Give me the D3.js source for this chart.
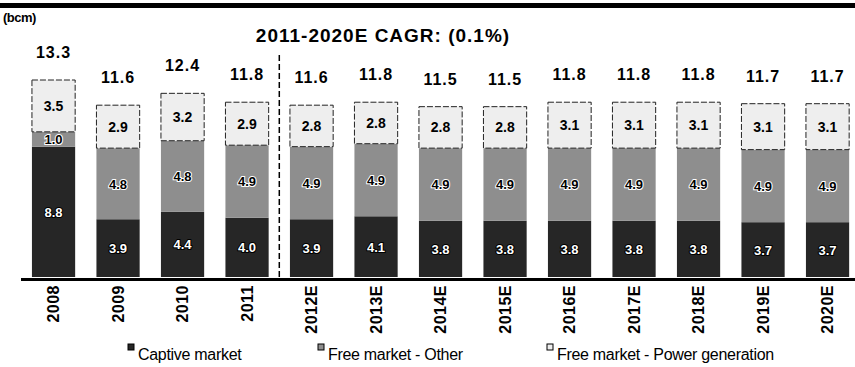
<!DOCTYPE html>
<html>
<head>
<meta charset="utf-8">
<script src="https://cdnjs.cloudflare.com/ajax/libs/d3/7.8.5/d3.min.js"></script>
<style>
  html, body { margin: 0; padding: 0; background: #fff; }
  svg { display: block; font-family: "Liberation Sans", Arial, sans-serif; }
</style>
</head>
<body>
<svg id="chart" width="855" height="367"></svg>
<script>
const years   = ["2008","2009","2010","2011","2012E","2013E","2014E","2015E","2016E","2017E","2018E","2019E","2020E"];
const captive = [8.8, 3.9, 4.4, 4.0, 3.9, 4.1, 3.8, 3.8, 3.8, 3.8, 3.8, 3.7, 3.7];
const other   = [1.0, 4.8, 4.8, 4.9, 4.9, 4.9, 4.9, 4.9, 4.9, 4.9, 4.9, 4.9, 4.9];
const power   = [3.5, 2.9, 3.2, 2.9, 2.8, 2.8, 2.8, 2.8, 3.1, 3.1, 3.1, 3.1, 3.1];
const totals  = [13.3, 11.6, 12.4, 11.8, 11.6, 11.8, 11.5, 11.5, 11.8, 11.8, 11.8, 11.7, 11.7];
const seriesNames = ["Captive market", "Free market - Other", "Free market - Power generation"];
const unitLabel = "(bcm)";
const titleText = "2011-2020E CAGR: (0.1%)";

const svg = d3.select("#chart");
const colors = ["#262626", "#8e8e8e", "#eeeeee"];

const x = d3.scaleBand().domain(years).range([21.3, 859.8]).paddingInner(0.33).paddingOuter(0.165);
const y = d3.scaleLinear().domain([0, 13.3]).range([277, 80]);

const rows = years.map((yr, i) => ({ year: yr, captive: captive[i], other: other[i], power: power[i], total: totals[i] }));
const keys = ["captive", "other", "power"];
const stacked = d3.stack().keys(keys)(rows);

// top rule
svg.append("rect").attr("x", 0).attr("y", 3).attr("width", 855).attr("height", 5).attr("fill", "#000");

// unit
svg.append("text").attr("x", 3).attr("y", 22).attr("font-size", 13).attr("font-weight", "bold")
  .attr("letter-spacing", -0.5).text(unitLabel);

// title
svg.append("text").attr("x", 383).attr("y", 42).attr("text-anchor", "middle")
  .attr("font-size", 19).attr("font-weight", "bold").attr("letter-spacing", 1).text(titleText);

// bars
const g = svg.append("g");
stacked.forEach((layer, li) => {
  g.selectAll(null).data(layer).enter().append("rect")
    .attr("x", d => x(d.data.year))
    .attr("width", x.bandwidth())
    .attr("y", d => y(d[1]))
    .attr("height", d => y(d[0]) - y(d[1]))
    .attr("fill", colors[li])
    .attr("stroke", li === 2 ? "#222" : "none")
    .attr("stroke-width", 1)
    .attr("stroke-dasharray", li === 2 ? "6,2" : null);
});

// segment labels
stacked.forEach((layer, li) => {
  g.selectAll(null).data(layer).enter().append("text")
    .attr("x", d => x(d.data.year) + x.bandwidth() / 2)
    .attr("y", d => (y(d[0]) + y(d[1])) / 2 + 5)
    .attr("text-anchor", "middle")
    .attr("font-size", li === 2 ? 14 : 13)
    .attr("font-weight", "bold")
    .attr("fill", li === 0 ? "#fff" : "#000")
    .attr("stroke", li === 1 ? "#fff" : (li === 0 ? "#000" : "none"))
    .attr("stroke-width", li === 2 ? 0 : 2)
    .attr("paint-order", "stroke")
    .text(d => d3.format(".1f")(d[1] - d[0]));
});

// totals
g.selectAll(null).data(rows).enter().append("text")
  .attr("x", d => x(d.year) + x.bandwidth() / 2)
  .attr("y", d => y(d.total) - 22)
  .attr("text-anchor", "middle")
  .attr("font-size", 16).attr("font-weight", "bold").attr("letter-spacing", 1)
  .text(d => d3.format(".1f")(d.total));

// dashed divider between actual and estimates
const divX = (x("2011") + x.bandwidth() + x("2012E")) / 2;
svg.append("line").attr("x1", divX).attr("x2", divX).attr("y1", 55).attr("y2", 277)
  .attr("stroke", "#000").attr("stroke-width", 1.5).attr("stroke-dasharray", "6,3");

// x axis
const xAxis = svg.append("g").attr("transform", "translate(0,279)")
  .call(d3.axisBottom(x).tickSize(0).tickPadding(0));
xAxis.select(".domain").remove();
svg.append("line").attr("x1", 21).attr("x2", 855).attr("y1", 279.5).attr("y2", 279.5)
  .attr("stroke", "#000").attr("stroke-width", 3);
xAxis.selectAll("text")
  .attr("transform", "rotate(-90)")
  .attr("x", -6).attr("y", 0).attr("dy", "0.35em")
  .attr("text-anchor", "end")
  .attr("font-family", "Liberation Sans, Arial, sans-serif")
  .attr("font-size", 16).attr("font-weight", "bold").attr("letter-spacing", 0.5).attr("fill", "#000");

// legend
const legendX = [128, 318, 547];
const leg = svg.append("g");
seriesNames.forEach((name, i) => {
  leg.append("rect").attr("x", legendX[i]).attr("y", 344).attr("width", 6).attr("height", 6)
    .attr("fill", colors[i]).attr("stroke", "#000").attr("stroke-width", 1);
  leg.append("text").attr("x", legendX[i] + 10).attr("y", 360)
    .attr("font-size", 16).attr("letter-spacing", -0.3).text(name);
});
</script>
</body>
</html>
